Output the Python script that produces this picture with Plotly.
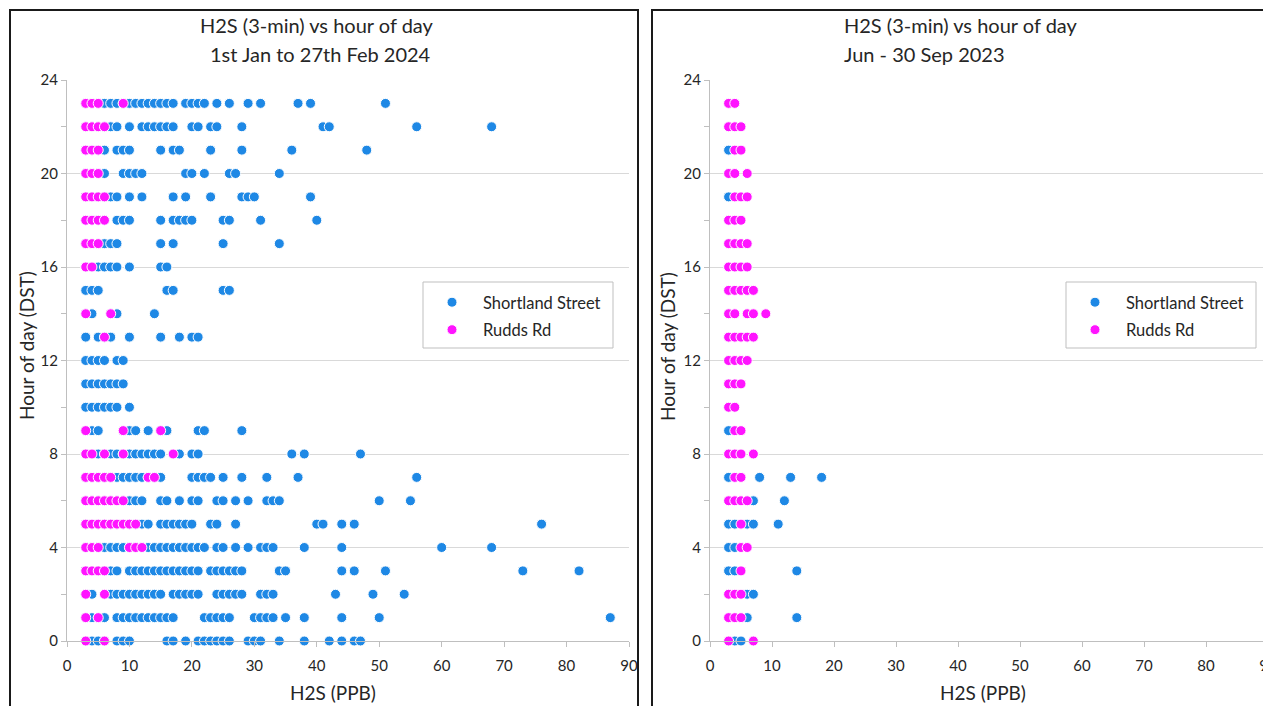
import plotly.graph_objects as go

W, H = 1271, 706
OFF = 8  # page body margin in the browser

hours = list(range(24))

# H2S (PPB) readings per hour of day (index = hour), 1st Jan to 27th Feb 2024
jan_shortland = [
    [3, 4, 5, 6, 8, 9, 10, 16, 17, 19, 21, 22, 23, 24, 25, 26, 29, 30, 31, 34, 38, 42, 44, 46, 47],
    [3, 4, 5, 6, 8, 9, 10, 11, 12, 13, 14, 15, 16, 17, 22, 23, 24, 25, 26, 30, 31, 32, 33, 35, 38, 44, 50, 87],
    [3, 4, 7, 8, 9, 10, 11, 12, 13, 14, 15, 17, 18, 19, 20, 21, 24, 25, 26, 27, 28, 31, 32, 33, 43, 49, 54],
    [3, 4, 5, 6, 7, 8, 10, 11, 12, 13, 14, 15, 16, 17, 18, 19, 20, 21, 23, 24, 25, 26, 27, 28, 34, 35, 44, 46, 51, 73, 82],
    [3, 4, 5, 6, 7, 8, 9, 10, 11, 12, 13, 14, 15, 16, 17, 18, 19, 20, 21, 22, 24, 25, 27, 29, 31, 32, 33, 38, 44, 60, 68],
    [3, 4, 5, 6, 7, 8, 9, 10, 11, 12, 13, 15, 16, 17, 18, 19, 20, 23, 24, 27, 40, 41, 44, 46, 76],
    [3, 4, 5, 6, 7, 8, 9, 10, 11, 12, 15, 16, 18, 20, 21, 24, 25, 27, 29, 32, 33, 34, 50, 55],
    [3, 4, 5, 6, 7, 8, 9, 10, 11, 12, 13, 14, 15, 20, 21, 22, 23, 25, 28, 32, 37, 56],
    [3, 4, 5, 6, 7, 8, 9, 10, 11, 12, 13, 14, 15, 18, 20, 21, 36, 38, 47],
    [3, 4, 5, 9, 10, 11, 13, 15, 16, 21, 22, 28],
    [3, 4, 5, 6, 7, 8, 10],
    [3, 4, 5, 6, 7, 8, 9],
    [3, 4, 5, 6, 8, 9],
    [3, 5, 6, 7, 10, 15, 18, 20, 21],
    [3, 4, 7, 8, 14],
    [3, 4, 5, 16, 17, 25, 26],
    [3, 4, 5, 6, 7, 8, 10, 15, 16],
    [3, 4, 5, 6, 7, 8, 15, 17, 25, 34],
    [3, 4, 5, 6, 8, 9, 10, 15, 17, 18, 19, 20, 25, 26, 31, 40],
    [3, 4, 5, 6, 7, 8, 10, 12, 17, 19, 23, 28, 29, 30, 39],
    [3, 4, 5, 6, 9, 10, 11, 12, 19, 20, 22, 26, 27, 34],
    [3, 4, 5, 6, 8, 9, 10, 15, 17, 18, 23, 28, 36, 48],
    [3, 4, 5, 6, 7, 8, 10, 12, 13, 14, 15, 16, 17, 20, 21, 23, 24, 28, 41, 42, 56, 68],
    [3, 4, 5, 6, 7, 8, 9, 10, 11, 12, 13, 14, 15, 16, 17, 19, 20, 21, 22, 24, 26, 29, 31, 37, 39, 51],
]

jan_rudds = [
    [3, 6], [3, 5], [3, 6], [3, 4, 5, 6], [3, 4, 5, 10, 11, 12],
    [3, 4, 5, 6, 7, 8, 9, 10, 11], [3, 4, 5, 6, 7, 8, 9], [3, 4, 5, 6, 7, 13, 14],
    [3, 4, 6, 9, 17], [3, 9, 15], [], [], [], [6], [3, 7], [],
    [3, 4], [3, 4, 5], [3, 4, 5, 6], [3, 4, 5, 6], [3, 4, 5], [3, 4, 5],
    [3, 4, 5, 6], [3, 4, 5, 9],
]

# Jun - 30 Sep 2023
jun_shortland = [
    [4, 5], [6, 14], [6, 7], [3, 4, 14], [3, 4], [3, 4, 6, 7, 11], [7, 12],
    [3, 8, 13, 18], [], [3], [], [], [], [], [], [], [], [], [], [3], [], [3], [], [],
]

jun_rudds = [
    [3, 7], [3, 4, 5], [3, 4, 5], [5], [5, 6], [5], [3, 4, 5, 6], [4, 5],
    [3, 4, 5, 7], [4, 5], [3, 4], [3, 4, 5], [3, 4, 5, 6], [3, 4, 5, 6, 7],
    [3, 4, 6, 7, 9], [3, 4, 5, 6, 7], [3, 4, 5, 6], [3, 4, 5, 6], [3, 4, 5],
    [4, 5, 6], [3, 4, 6], [4, 5], [3, 4, 5], [3, 4],
]

series_names = ["Shortland Street", "Rudds Rd"]
panel_titles = [
    ("H2S (3-min) vs hour of day", "1st Jan to 27th Feb 2024"),
    ("H2S (3-min) vs hour of day", "Jun - 30 Sep 2023"),
]
x_title = "H2S (PPB)"
y_title = "Hour of day (DST)"
y_ticks = [0, 4, 8, 12, 16, 20, 24]

BLUE = "#1E88E5"
PINK = "#FF14FF"
FONT = "Lato"
TXT = "#262626"
GRID = "#d9d9d9"
AX = "#bfbfbf"


def flatten(per_hour):
    xs, ys = [], []
    for h, vals in zip(hours, per_hour):
        xs += vals
        ys += [h] * len(vals)
    return xs, ys


def px(x):
    return (x - OFF) / W


def py(y):
    return 1 - (y - OFF) / H


fig = go.Figure()

panels = [
    dict(data=[jan_shortland, jan_rudds], xa="x", ya="y", legend="legend"),
    dict(data=[jun_shortland, jun_rudds], xa="x2", ya="y2", legend="legend2"),
]
colors = [BLUE, PINK]
for p in panels:
    for name, per_hour, col in zip(series_names, p["data"], colors):
        xs, ys = flatten(per_hour)
        fig.add_trace(go.Scatter(
            x=xs, y=ys, mode="markers", name=name,
            marker=dict(color=col, size=10, line=dict(color="white", width=1)),
            xaxis=p["xa"], yaxis=p["ya"], legend=p["legend"],
            legendgroup=p["legend"] + name, cliponaxis=False,
        ))

ydom = [py(641), py(80)]
common_x = dict(range=[0, 90], dtick=10, ticks="outside", ticklen=5, tickcolor=AX,
                showline=True, linecolor=AX, linewidth=1, showgrid=False, zeroline=False,
                automargin=False,
                tickfont=dict(family=FONT, size=15, color=TXT), ticklabelstandoff=6)
common_y = dict(range=[0, 24], tickvals=y_ticks, ticks="outside", ticklen=5, tickcolor=AX,
                showline=True, linecolor=AX, linewidth=1, showgrid=True, gridcolor=GRID,
                zeroline=False, domain=ydom, automargin=False,
                minor=dict(dtick=2, ticks="outside", ticklen=5, tickcolor=AX, showgrid=False),
                tickfont=dict(family=FONT, size=15, color=TXT))

legend_common = dict(xanchor="left", yanchor="top", bgcolor="rgba(0,0,0,0)", borderwidth=0,
                     tracegroupgap=3, itemwidth=52,
                     font=dict(family=FONT, size=16.5, color=TXT))

fig.update_layout(
    width=W, height=H, margin=dict(l=0, r=0, t=0, b=0, pad=0, autoexpand=False),
    paper_bgcolor="white", plot_bgcolor="white",
    font=dict(family=FONT, color=TXT),
    xaxis=dict(domain=[px(67), px(629)], anchor="y", **common_x),
    yaxis=dict(anchor="x", **common_y),
    xaxis2=dict(domain=[px(710), px(1268)], anchor="y2", **common_x),
    yaxis2=dict(anchor="x2", **common_y),
    legend=dict(x=px(421), y=py(285), **legend_common),
    legend2=dict(x=px(1064), y=py(285), **legend_common),
    showlegend=True,
)

shapes = [
    # panel borders
    dict(type="rect", xref="paper", yref="paper", x0=px(10), x1=px(638), y0=-0.05, y1=py(10),
         line=dict(color="#1a1a1a", width=2)),
    dict(type="rect", xref="paper", yref="paper", x0=px(652), x1=1.05, y0=-0.05, y1=py(10),
         line=dict(color="#1a1a1a", width=2)),
    # legend boxes
    dict(type="rect", xref="paper", yref="paper", x0=px(423), x1=px(613), y0=py(348), y1=py(282),
         line=dict(color=AX, width=1), fillcolor="rgba(0,0,0,0)"),
    dict(type="rect", xref="paper", yref="paper", x0=px(1066), x1=px(1256), y0=py(348), y1=py(282),
         line=dict(color=AX, width=1), fillcolor="rgba(0,0,0,0)"),
]
fig.update_layout(shapes=shapes)

ann = []
tfont = dict(family=FONT, size=20, color=TXT)
# panel titles
ann.append(dict(text=panel_titles[0][0], x=px(317), y=py(25), xanchor="center", yanchor="middle", font=tfont))
ann.append(dict(text=panel_titles[0][1], x=px(320), y=py(54), xanchor="center", yanchor="middle", font=tfont))
ann.append(dict(text=panel_titles[1][0], x=px(842), y=py(25), xanchor="left", yanchor="middle", font=tfont))
ann.append(dict(text=panel_titles[1][1], x=px(842), y=py(54), xanchor="left", yanchor="middle", font=tfont))
# axis titles
afont = dict(family=FONT, size=19, color=TXT)
ann.append(dict(text=x_title, x=px(333), y=py(692), xanchor="center", yanchor="middle", font=afont))
ann.append(dict(text=x_title, x=px(983), y=py(692), xanchor="center", yanchor="middle", font=afont))
ann.append(dict(text=y_title, x=px(26), y=py(346), xanchor="center", yanchor="middle", textangle=-90, font=afont))
ann.append(dict(text=y_title, x=px(667), y=py(346), xanchor="center", yanchor="middle", textangle=-90, font=afont))
for a in ann:
    a.update(xref="paper", yref="paper", showarrow=False)
fig.update_layout(annotations=ann)

fig.write_html("out.html")
